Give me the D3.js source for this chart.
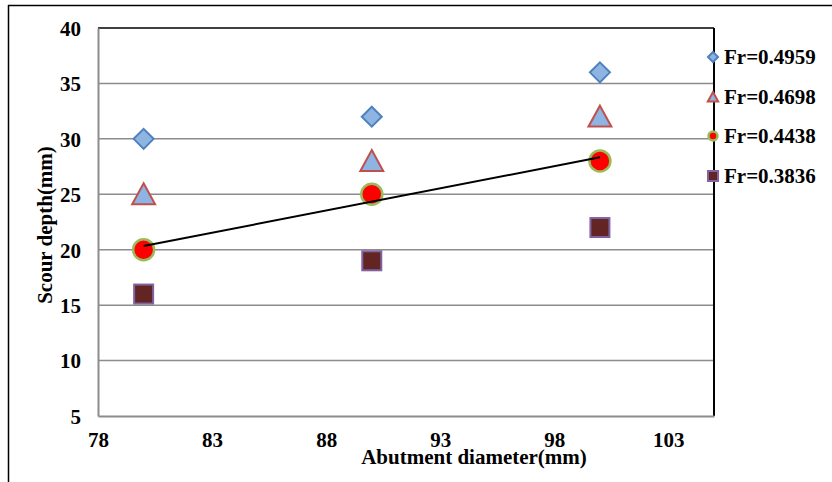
<!DOCTYPE html>
<html>
<head>
<meta charset="utf-8">
<script src="https://cdn.jsdelivr.net/npm/d3@7"></script>
<style>
  html, body { margin: 0; padding: 0; background: #fff; }
  svg { display: block; }
  text { font-family: "Liberation Serif", "Times New Roman", serif; font-weight: bold; fill: #000; }
  .tick text { font-size: 21px; }
</style>
</head>
<body>
<svg id="chart" width="832" height="482"></svg>
<script>
// Abutment diameters (mm) tested
const diameters = [80, 90, 100];
// Scour depth (mm) for each Froude number
const seriesNames = ["Fr=0.4959", "Fr=0.4698", "Fr=0.4438", "Fr=0.3836"];
const depthFr4959 = [30, 32, 36];
const depthFr4698 = [25, 28, 32];
const depthFr4438 = [20, 25, 28];
const depthFr3836 = [16, 19, 22];
const xTicks = [78, 83, 88, 93, 98, 103];
const yTicks = [5, 10, 15, 20, 25, 30, 35, 40];

const svg = d3.select("#chart");
const W = 832, H = 482;

// outer frame (left and top edges)
svg.append("line").attr("x1", 8.5).attr("x2", 8.5).attr("y1", 5).attr("y2", H).attr("stroke", "#000").attr("stroke-width", 1.5);
svg.append("line").attr("x1", 8).attr("x2", W).attr("y1", 5.5).attr("y2", 5.5).attr("stroke", "#000").attr("stroke-width", 1.5);

const plotL = 98, plotR = 714, plotT = 28, plotB = 416;
const x = d3.scaleLinear().domain([78, 105]).range([plotL, plotR]);
const y = d3.scaleLinear().domain([5, 40]).range([plotB, plotT]);

// horizontal gridlines
svg.append("g").selectAll("line").data(yTicks.filter(t => t > 5 && t < 40)).join("line")
  .attr("x1", plotL).attr("x2", plotR)
  .attr("y1", d => y(d)).attr("y2", d => y(d))
  .attr("stroke", "#8c8c8c").attr("stroke-width", 1.5);

// plot border: top and right black, left and bottom grey axes
svg.append("line").attr("x1", plotL).attr("x2", plotR).attr("y1", plotT).attr("y2", plotT).attr("stroke", "#000").attr("stroke-width", 1.5);
svg.append("line").attr("x1", plotR).attr("x2", plotR).attr("y1", plotT).attr("y2", plotB).attr("stroke", "#000").attr("stroke-width", 2);

// y axis
const yAxis = svg.append("g").attr("transform", `translate(${plotL},0)`)
  .call(d3.axisLeft(y).tickValues(yTicks).tickSize(0).tickPadding(17).tickFormat(d3.format("d")));
yAxis.attr("font-size", null).attr("font-family", null);
yAxis.select(".domain").attr("stroke", "#8c8c8c").attr("stroke-width", 2);
yAxis.selectAll("text").attr("dy", "0.35em");

// x axis
const xAxis = svg.append("g").attr("transform", `translate(0,${plotB})`)
  .call(d3.axisBottom(x).tickValues(xTicks).tickSize(0).tickPadding(17).tickFormat(d3.format("d")));
xAxis.attr("font-size", null).attr("font-family", null);
xAxis.select(".domain").attr("stroke", "#8c8c8c").attr("stroke-width", 2);
xAxis.selectAll("text").attr("dy", "0.66em");

// axis titles
svg.append("text").attr("x", 474).attr("y", 464).attr("text-anchor", "middle")
  .style("font-size", "21px").text("Abutment diameter(mm)");
svg.append("text").attr("transform", "translate(52,225) rotate(-90)").attr("text-anchor", "middle")
  .style("font-size", "21px").text("Scour depth(mm)");

// marker drawing helpers
const styles = [
  { fill: "#8db4e2", stroke: "#4f81bd", shape: "diamond" },
  { fill: "#8db4e2", stroke: "#c0504d", shape: "triangle" },
  { fill: "#ff0000", stroke: "#9bbb59", shape: "circle" },
  { fill: "#632523", stroke: "#8064a2", shape: "square" }
];
function drawMarker(g, shape, cx, cy, s, st) {
  let el;
  if (shape === "diamond") {
    el = g.append("path").attr("d", `M${cx},${cy - s / 2}L${cx + s / 2},${cy}L${cx},${cy + s / 2}L${cx - s / 2},${cy}Z`);
  } else if (shape === "triangle") {
    el = g.append("path").attr("d", `M${cx},${cy - s * 0.5}L${cx + s * 0.52},${cy + s * 0.45}L${cx - s * 0.52},${cy + s * 0.45}Z`);
  } else if (shape === "circle") {
    el = g.append("circle").attr("cx", cx).attr("cy", cy).attr("r", s / 2);
  } else {
    el = g.append("rect").attr("x", cx - s / 2).attr("y", cy - s / 2).attr("width", s).attr("height", s);
  }
  el.attr("fill", st.fill).attr("stroke", st.stroke).attr("stroke-width", st.shape === "circle" ? 2.5 : 2);
}

// linear trend of the Fr=0.4438 series
const xm = d3.mean(diameters), ym = d3.mean(depthFr4438);
const slope = d3.sum(diameters, (d, i) => (d - xm) * (depthFr4438[i] - ym)) / d3.sum(diameters, d => (d - xm) ** 2);
const icpt = ym - slope * xm;
const trendX = [d3.min(diameters), d3.max(diameters)];

const allSeries = [depthFr4959, depthFr4698, depthFr4438, depthFr3836];
const sizes = [20, 22, 21, 19];
const markers = svg.append("g");
allSeries.forEach((vals, si) => {
  vals.forEach((v, i) => drawMarker(markers, styles[si].shape, x(diameters[i]), y(v), sizes[si], styles[si]));
});

svg.append("line")
  .attr("x1", x(trendX[0])).attr("y1", y(icpt + slope * trendX[0]))
  .attr("x2", x(trendX[1])).attr("y2", y(icpt + slope * trendX[1]))
  .attr("stroke", "#000").attr("stroke-width", 2);

// legend
const legendY = [57, 97, 136, 176];
const legend = svg.append("g");
seriesNames.forEach((name, i) => {
  drawMarker(legend, styles[i].shape, 713, legendY[i], i === 2 ? 9 : 10, styles[i]);
  legend.append("text").attr("x", 724).attr("y", legendY[i]).attr("dy", "0.35em")
    .style("font-size", "21px").text(name);
});
</script>
</body>
</html>
